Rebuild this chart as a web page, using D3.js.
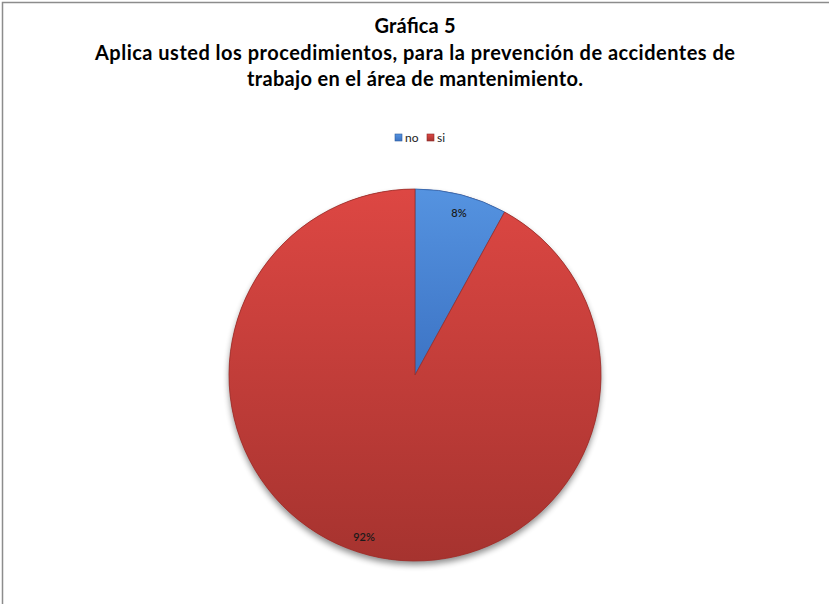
<!DOCTYPE html>
<html><head><meta charset="utf-8">
<script src="https://cdn.jsdelivr.net/npm/d3@7"></script>
<style>body{margin:0;background:#fff}svg{display:block}</style>
</head><body>
<script>
const categories = ["no", "si"];
const values = [8, 92];
const labels = ["8%", "92%"];
const titleLines = ["Gráfica 5", "Aplica usted los procedimientos,  para la prevención de accidentes de", "trabajo en el área de mantenimiento."];

const W = 829, H = 604;
const svg = d3.select("body").append("svg").attr("width", W).attr("height", H);
svg.append("rect").attr("x", 2.5).attr("y", 2.5).attr("width", W + 10).attr("height", H + 10)
  .attr("fill", "#fff").attr("stroke", "#8c8c8c").attr("stroke-width", 1.5);

const defs = svg.append("defs");
const grads = [
  {id: "gno", c0: "#5593e0", c1: "#3c73c4"},
  {id: "gsi", c0: "#dd4743", c1: "#a6332f"}
];
grads.forEach(g => {
  const lg = defs.append("linearGradient").attr("id", g.id).attr("x1", 0).attr("y1", 0).attr("x2", 0).attr("y2", 1);
  lg.append("stop").attr("offset", "0%").attr("stop-color", g.c0);
  lg.append("stop").attr("offset", "100%").attr("stop-color", g.c1);
});
const flt = defs.append("filter").attr("id", "sh").attr("x", "-20%").attr("y", "-20%").attr("width", "140%").attr("height", "140%");
flt.append("feGaussianBlur").attr("in", "SourceAlpha").attr("stdDeviation", 3);
flt.append("feOffset").attr("dx", 0).attr("dy", 4).attr("result", "b");
flt.append("feComponentTransfer").append("feFuncA").attr("type", "linear").attr("slope", 0.45);
const fm = flt.append("feMerge");
fm.append("feMergeNode");
fm.append("feMergeNode").attr("in", "SourceGraphic");

// Title
const title = svg.append("g").attr("font-family", "Lato, 'Open Sans', sans-serif").attr("font-weight", "bold")
  .attr("font-size", 20).attr("fill", "#000").attr("text-anchor", "middle");
const tLen = [81, 640, 336];
[33, 60, 86].forEach((y, i) => {
  title.append("text").attr("x", 415).attr("y", y)
    .attr("textLength", tLen[i]).attr("lengthAdjust", "spacing").text(titleLines[i]);
});

// Legend
const color = d3.scaleOrdinal().domain(categories).range(["url(#gno)", "url(#gsi)"]);
const legPos = [{x: 395, tx: 405}, {x: 427, tx: 437}];
const leg = svg.append("g").attr("font-family", "Lato, sans-serif").attr("font-size", 12);
categories.forEach((c, i) => {
  leg.append("rect").attr("x", legPos[i].x).attr("y", 134).attr("width", 7).attr("height", 7)
    .attr("fill", color(c)).attr("stroke", i ? "#8a2a27" : "#2f5d9c").attr("stroke-width", 0.6);
  leg.append("text").attr("x", legPos[i].tx).attr("y", 142).attr("fill", "#222").text(c);
});

// Pie
const cx = 415, cy = 375, r = 186;
const pie = d3.pie().sort(null).value(d => d)(values);
const arc = d3.arc().innerRadius(0).outerRadius(r);
const g = svg.append("g").attr("transform", `translate(${cx},${cy})`);
g.append("circle").attr("r", r).attr("fill", "#b03a35").attr("filter", "url(#sh)");
g.selectAll("path.s").data(pie).join("path").attr("class", "s")
  .attr("d", arc).attr("fill", (d, i) => color(categories[i]))
  .attr("stroke", (d, i) => i ? "#9a302c" : "#2f62a8").attr("stroke-width", 0.8);

// Labels
const lab = svg.append("g").attr("font-family", "Lato, sans-serif").attr("font-size", 11)
  .attr("font-weight", 600).attr("fill", "#1a1a1a").attr("text-anchor", "middle");
const labOff = [[44, -162], [-51, 162]];
pie.forEach((d, i) => {
  lab.append("text").attr("x", cx + labOff[i][0]).attr("y", cy + labOff[i][1] + 4).text(labels[i]);
});
</script>
</body></html>
